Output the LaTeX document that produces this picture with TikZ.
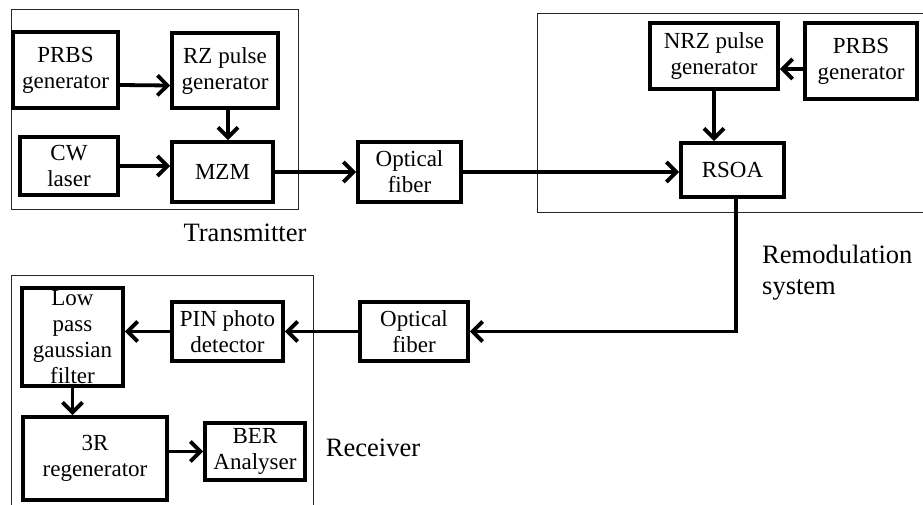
\documentclass[tikz,border=0pt]{standalone}
\usepackage{fontspec}
\setmainfont{Liberation Serif}
\usetikzlibrary{arrows.meta}
\begin{document}
\begin{tikzpicture}[x=1pt,y=-1pt,
  blk/.style={draw, line width=3.8pt, align=center, inner sep=0pt,
    font=\fontsize{23}{26}\selectfont},
  frame/.style={draw=black!85, line width=1pt},
  arr/.style={line width=3.8pt, -{Straight Barb[length=10pt,width=20pt,line width=3.8pt]}},
  lbl/.style={font=\fontsize{26.5}{31}\selectfont, inner sep=0pt}]
\useasboundingbox (0,0) rectangle (923,504);
% frames
\draw[frame] (11,9) rectangle (298,209);
\draw[frame] (537,13) rectangle (930,212);
\draw[frame] (11,275) rectangle (313,515);
% transmitter
\node[blk, minimum width=105pt, minimum height=76pt] (prbs1) at (65.5,70) {PRBS\\generator};
\node[blk, minimum width=106pt, minimum height=75pt] (rz) at (225,70.5) {RZ pulse\\generator};
\node[blk, minimum width=98pt, minimum height=58pt] (cw) at (69,166) {CW\\laser};
\node[blk, minimum width=101pt, minimum height=60pt] (mzm) at (222.5,172) {MZM};
\node[blk, minimum width=103pt, minimum height=60pt] (of1) at (409.5,172) {Optical\\fiber};
% remodulation
\node[blk, minimum width=128pt, minimum height=66pt] (nrz) at (714,56) {NRZ pulse\\generator};
\node[blk, minimum width=112pt, minimum height=76pt] (prbs2) at (861,61) {PRBS\\generator};
\node[blk, minimum width=103pt, minimum height=54pt] (rsoa) at (732.5,170) {RSOA};
% receiver
\node[blk, minimum width=108pt, minimum height=59pt] (of2) at (414,331.5) {Optical\\fiber};
\node[blk, minimum width=111pt, minimum height=59pt] (pin) at (227.5,331.5) {PIN photo\\detector};
\node[blk, minimum width=101pt, minimum height=98pt, text width=95pt] (lpf) at (72.5,337) {Low\\pass\\gaussian\\filter};
\node[blk, minimum width=144pt, minimum height=83pt] (r3) at (95,458.5) {3R\\regenerator};
\node[blk, minimum width=100pt, minimum height=57pt] (ber) at (255,451.5) {BER\\Analyser};
% labels
\node[lbl] (ltx) at (245,233) {Transmitter};
\node[lbl, anchor=north west, align=left] (lrm) at (762,245) {Remodulation\\system};
\node[lbl] (lrx) at (373,448) {Receiver};
% connectors
\draw[arr] ([yshift=-15pt]prbs1.east) -- ([yshift=-15pt]rz.west);
\draw[arr] ([xshift=3pt]rz.south) -- ([xshift=3pt]rz.south |- mzm.north);
\draw[arr] (cw.east) -- (cw.east -| mzm.west);
\draw[arr] (mzm) -- (of1);
\draw[arr] (of1.east) -- (of1.east -| rsoa.west);
\draw[arr] ([yshift=-8pt]prbs2.west) -- ([yshift=-8pt]prbs2.west -| nrz.east);
\draw[arr] (nrz.south) -- (nrz.south |- rsoa.north);
\draw[arr] ([xshift=3.5pt]rsoa.south) |- (of2.east);
\draw[arr] (of2.west) -- (pin.east);
\draw[arr] (pin.west) -- (pin.west -| lpf.east);
\draw[arr] (lpf.south) -- (lpf.south |- r3.north);
\draw[arr] (ber.west -| r3.east) -- (ber.west);
\end{tikzpicture}
\end{document}
